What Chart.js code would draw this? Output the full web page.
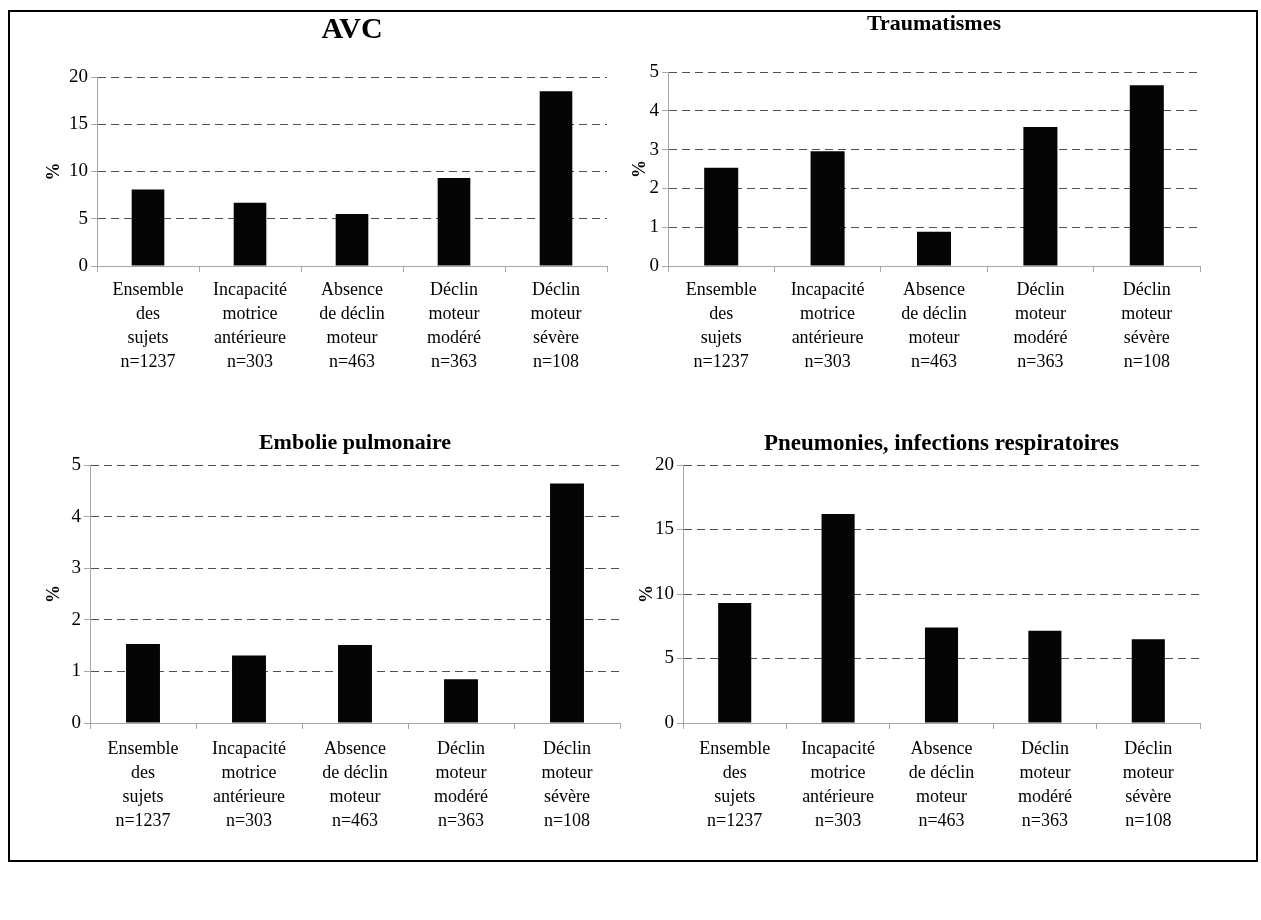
<!DOCTYPE html>
<html>
<head>
<meta charset="utf-8">
<script src="https://cdn.jsdelivr.net/npm/chart.js@4.4.0/dist/chart.umd.min.js"></script>
<style>
  html, body { margin:0; padding:0; background:#fff; }
  body { width:1261px; height:920px; position:relative; overflow:hidden; }
  #frame { position:absolute; left:8px; top:10px; width:1246px; height:848px; border:2px solid #000; }
  canvas { position:absolute; }
</style>
</head>
<body>
<div id="frame"></div>
<canvas id="c1" width="580" height="368" style="left:40px;top:12px;width:580px;height:368px"></canvas>
<canvas id="c2" width="590" height="375" style="left:630px;top:5px;width:590px;height:375px"></canvas>
<canvas id="c3" width="590" height="407" style="left:40px;top:430px;width:590px;height:407px"></canvas>
<canvas id="c4" width="590" height="407" style="left:630px;top:430px;width:590px;height:407px"></canvas>
<script>
// ---- data ----
const categories = [
  ["Ensemble", "des", "sujets", "n=1237"],
  ["Incapacité", "motrice", "antérieure", "n=303"],
  ["Absence", "de déclin", "moteur", "n=463"],
  ["Déclin", "moteur", "modéré", "n=363"],
  ["Déclin", "moteur", "sévère", "n=108"]
];
const titles = ["AVC", "Traumatismes", "Embolie pulmonaire", "Pneumonies, infections respiratoires"];
const avcValues = [8.1, 6.7, 5.5, 9.3, 18.5];
const traumaValues = [2.53, 2.96, 0.88, 3.58, 4.66];
const emboliValues = [1.53, 1.31, 1.51, 0.85, 4.64];
const pneumoValues = [9.3, 16.2, 7.4, 7.15, 6.5];
const yMaxes = [20, 5, 5, 20];
const ySteps = [5, 1, 1, 5];
const yAxisTitle = "%";

// ---- drawing ----
const SERIF = "'Liberation Serif', 'Times New Roman', serif";

function makeChart(id, title, values, max, step, g) {
  new Chart(document.getElementById(id), {
    type: 'bar',
    data: {
      labels: categories,
      datasets: [{ data: values, backgroundColor: '#050505', barPercentage: 0.32, categoryPercentage: 1 }]
    },
    options: {
      responsive: false,
      animation: false,
      devicePixelRatio: 1,
      layout: { padding: { left: 0, right: g.padRight, top: 0, bottom: 0 } },
      plugins: {
        legend: { display: false },
        tooltip: { enabled: false },
        title: {
          display: true, text: title, color: '#000', fullSize: g.fullSize,
          font: { family: SERIF, size: g.titleSize, weight: 'bold', lineHeight: 1.2 },
          padding: { top: g.titleTop, bottom: g.titlePad }
        }
      },
      scales: {
        x: {
          grid: { display: true, drawOnChartArea: false, offset: true, tickLength: 6, color: '#a6a6a6', tickColor: '#a6a6a6' },
          border: { display: true, color: '#a6a6a6' },
          ticks: { color: '#000', font: { family: SERIF, size: 18, lineHeight: 1.333 }, padding: g.xPad, maxRotation: 0, minRotation: 0, autoSkip: false },
          afterFit: s => { s.height = g.xHeight; }
        },
        y: {
          min: 0, max: max,
          ticks: { stepSize: step, color: '#000', font: { family: SERIF, size: 19 }, padding: 3 },
          grid: {
            color: ctx => (ctx.tick && ctx.tick.value === 0) ? 'rgba(0,0,0,0)' : '#505050',
            tickColor: '#a6a6a6', tickLength: 6, tickBorderDash: [], lineWidth: 1
          },
          border: { display: true, color: '#a6a6a6', dash: [8, 5] },
          title: {
            display: true, text: yAxisTitle, color: '#000',
            font: { family: SERIF, size: 18, weight: 'bold' },
            padding: { top: g.yTitlePad, bottom: 0 }
          },
          afterFit: s => { s.width = g.yWidth; }
        }
      }
    }
  });
}

makeChart('c1', titles[0], avcValues, yMaxes[0], ySteps[0],
  { fullSize: false, padRight: 13, titleSize: 30, titleTop: 0, titlePad: 29, xPad: 6, xHeight: 114, yWidth: 57, yTitlePad: 4 });
makeChart('c2', titles[1], traumaValues, yMaxes[1], ySteps[1],
  { fullSize: false, padRight: 20, titleSize: 22, titleTop: 6, titlePad: 34.6, xPad: 6, xHeight: 114, yWidth: 38, yTitlePad: 0 });
makeChart('c3', titles[2], emboliValues, yMaxes[2], ySteps[2],
  { fullSize: false, padRight: 10, titleSize: 22, titleTop: 0, titlePad: 8.6, xPad: 8, xHeight: 114, yWidth: 50, yTitlePad: 4 });
makeChart('c4', titles[3], pneumoValues, yMaxes[3], ySteps[3],
  { fullSize: false, padRight: 20, titleSize: 23, titleTop: 0, titlePad: 7.4, xPad: 8, xHeight: 114, yWidth: 53, yTitlePad: 7 });
</script>
</body>
</html>
